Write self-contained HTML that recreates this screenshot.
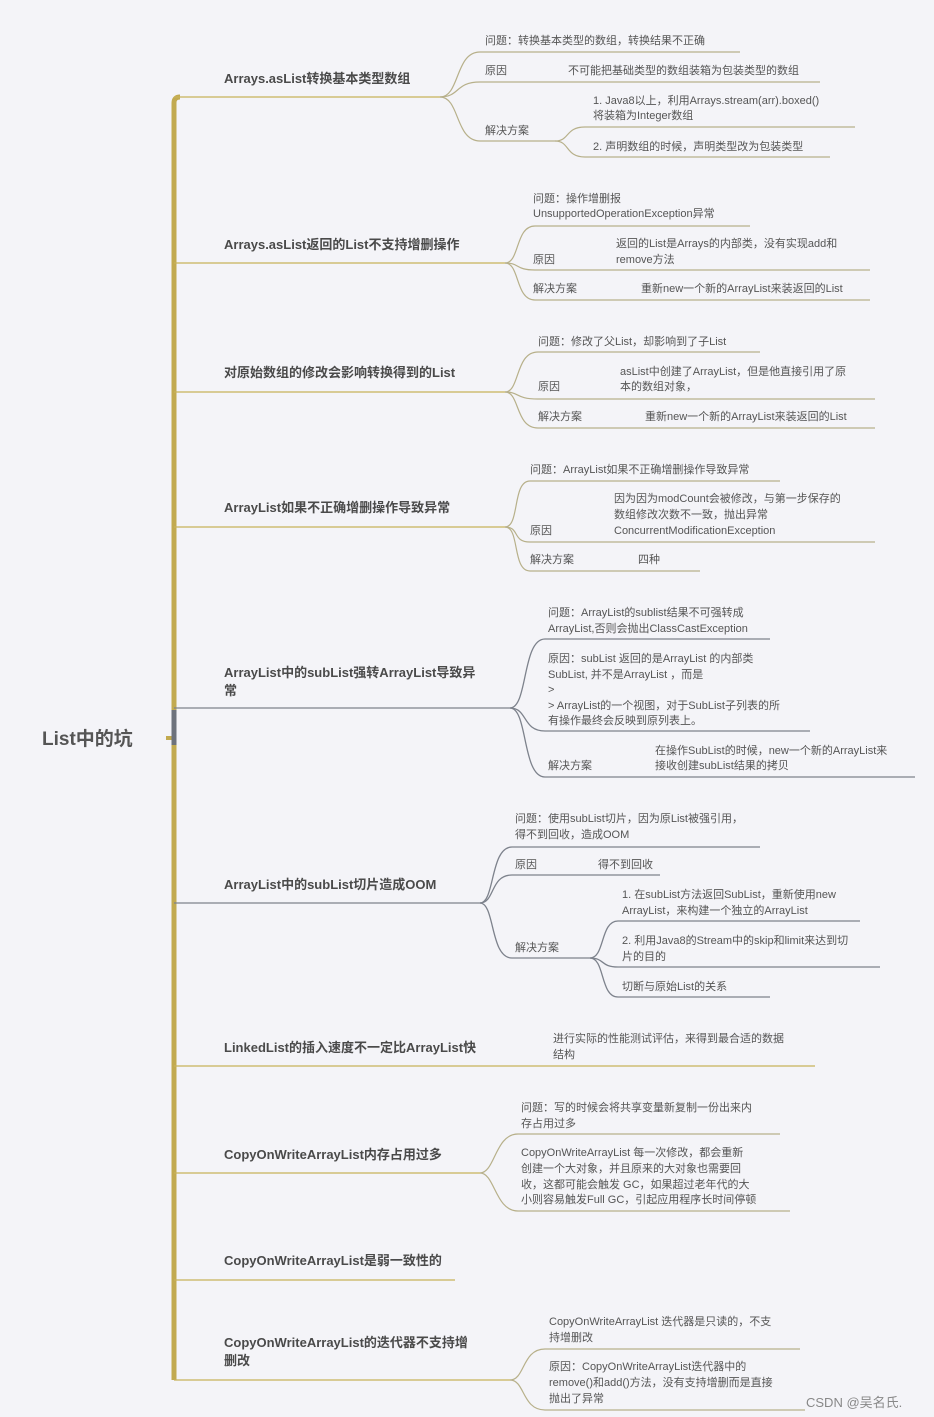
<!DOCTYPE html>
<html><head><meta charset="utf-8">
<style>
html,body{margin:0;padding:0;background:#f4f4f8;}
svg{display:block;}
text{font-family:"Liberation Sans","Noto Sans CJK SC",sans-serif;fill:#555;font-size:11px;}
.b{font-size:13px;font-weight:bold;fill:#4a4a4a;}
.r{font-size:19px;font-weight:bold;fill:#555;}
.g{fill:none;stroke:#c8b25a;stroke-width:1.3;}
.k{fill:none;stroke:#7d828c;stroke-width:1.3;}
.m{fill:none;stroke:#b7b08a;stroke-width:1.2;}
</style></head><body>
<svg width="934" height="1417" viewBox="0 0 934 1417" xmlns="http://www.w3.org/2000/svg">
<!-- trunk -->
<path d="M174 1380 L174 103 Q174 97 180 97" fill="none" stroke="#c2aa50" stroke-width="5"/>
<path d="M166 738 L174 738" stroke="#c2aa50" stroke-width="4"/>
<text class="r" x="42" y="745">List中的坑</text>

<!-- Branch 1 -->
<path class="g" d="M174 97 L440 97"/>
<text class="b" x="224" y="83">Arrays.asList转换基本类型数组</text>
<path class="m" d="M440 97 C460 97,455 52,480 52 L740 52"/>
<path class="m" d="M440 97 C460 97,455 82,480 82 L820 82"/>
<path class="m" d="M440 97 C460 97,455 141,480 141 L555 141"/>
<path class="m" d="M555 141 C570 141,565 127,585 127 L855 127"/>
<path class="m" d="M555 141 C570 141,565 157,585 157 L830 157"/>
<text x="485" y="44">问题：转换基本类型的数组，转换结果不正确</text>
<text x="485" y="74">原因</text><text x="568" y="74">不可能把基础类型的数组装箱为包装类型的数组</text>
<text x="485" y="134">解决方案</text>
<text x="593" y="104">1. Java8以上，利用Arrays.stream(arr).boxed()</text>
<text x="593" y="119">将装箱为Integer数组</text>
<text x="593" y="150">2. 声明数组的时候，声明类型改为包装类型</text>

<!-- Branch 2 -->
<path class="g" d="M174 263 L505 263"/>
<text class="b" x="224" y="249">Arrays.asList返回的List不支持增删操作</text>
<path class="m" d="M505 263 C520 263,515 226,535 226 L750 226"/>
<path class="m" d="M505 263 C520 263,515 270,535 270 L870 270"/>
<path class="m" d="M505 263 C520 263,515 300,535 300 L870 300"/>
<text x="533" y="202">问题：操作增删报</text>
<text x="533" y="217">UnsupportedOperationException异常</text>
<text x="533" y="263">原因</text>
<text x="616" y="247">返回的List是Arrays的内部类，没有实现add和</text>
<text x="616" y="263">remove方法</text>
<text x="533" y="292">解决方案</text><text x="641" y="292">重新new一个新的ArrayList来装返回的List</text>

<!-- Branch 3 -->
<path class="g" d="M174 392 L505 392"/>
<text class="b" x="224" y="377">对原始数组的修改会影响转换得到的List</text>
<path class="m" d="M505 392 C520 392,515 352,538 352 L760 352"/>
<path class="m" d="M505 392 C520 392,515 399,538 399 L875 399"/>
<path class="m" d="M505 392 C520 392,515 428,538 428 L875 428"/>
<text x="538" y="345">问题：修改了父List，却影响到了子List</text>
<text x="538" y="390">原因</text>
<text x="620" y="375">asList中创建了ArrayList，但是他直接引用了原</text>
<text x="620" y="390">本的数组对象，</text>
<text x="538" y="420">解决方案</text><text x="645" y="420">重新new一个新的ArrayList来装返回的List</text>

<!-- Branch 4 -->
<path class="g" d="M174 527 L505 527"/>
<text class="b" x="224" y="512">ArrayList如果不正确增删操作导致异常</text>
<path class="m" d="M505 527 C520 527,512 481,530 481 L780 481"/>
<path class="m" d="M505 527 C520 527,512 542,530 542 L875 542"/>
<path class="m" d="M505 527 C520 527,512 571,530 571 L700 571"/>
<text x="530" y="473">问题：ArrayList如果不正确增删操作导致异常</text>
<text x="530" y="534">原因</text>
<text x="614" y="502">因为因为modCount会被修改，与第一步保存的</text>
<text x="614" y="518">数组修改次数不一致，抛出异常</text>
<text x="614" y="534">ConcurrentModificationException</text>
<text x="530" y="563">解决方案</text><text x="638" y="563">四种</text>

<!-- Branch 5 -->
<path class="k" d="M174 708 L510 708"/>
<path d="M174 710 L174 745" stroke="#6d727c" stroke-width="5"/>
<text class="b" x="224" y="677">ArrayList中的subList强转ArrayList导致异</text>
<text class="b" x="224" y="695">常</text>
<path class="k" d="M510 708 C528 708,522 639,545 639 L770 639"/>
<path class="k" d="M510 708 C528 708,522 731,545 731 L810 731"/>
<path class="k" d="M510 708 C528 708,522 777,545 777 L915 777"/>
<text x="548" y="616">问题：ArrayList的sublist结果不可强转成</text>
<text x="548" y="632">ArrayList,否则会抛出ClassCastException</text>
<text x="548" y="662">原因：subList 返回的是ArrayList 的内部类</text>
<text x="548" y="678">SubList, 并不是ArrayList ，而是</text>
<text x="548" y="693">&gt;</text>
<text x="548" y="709">&gt; ArrayList的一个视图，对于SubList子列表的所</text>
<text x="548" y="724">有操作最终会反映到原列表上。</text>
<text x="548" y="769">解决方案</text>
<text x="655" y="754">在操作SubList的时候，new一个新的ArrayList来</text>
<text x="655" y="769">接收创建subList结果的拷贝</text>

<!-- Branch 6 -->
<path class="k" d="M174 903 L480 903"/>
<text class="b" x="224" y="889">ArrayList中的subList切片造成OOM</text>
<path class="k" d="M480 903 C495 903,490 847,512 847 L760 847"/>
<path class="k" d="M480 903 C495 903,490 875,512 875 L660 875"/>
<path class="k" d="M480 903 C495 903,490 958,512 958 L590 958"/>
<path class="k" d="M590 958 C605 958,600 921,618 921 L860 921"/>
<path class="k" d="M590 958 C605 958,600 967,618 967 L880 967"/>
<path class="k" d="M590 958 C605 958,600 997,618 997 L770 997"/>
<text x="515" y="822">问题：使用subList切片，因为原List被强引用，</text>
<text x="515" y="838">得不到回收，造成OOM</text>
<text x="515" y="868">原因</text><text x="598" y="868">得不到回收</text>
<text x="515" y="951">解决方案</text>
<text x="622" y="898">1. 在subList方法返回SubList，重新使用new</text>
<text x="622" y="914">ArrayList，来构建一个独立的ArrayList</text>
<text x="622" y="944">2. 利用Java8的Stream中的skip和limit来达到切</text>
<text x="622" y="960">片的目的</text>
<text x="622" y="990">切断与原始List的关系</text>

<!-- Branch 7 -->
<path class="g" d="M174 1066 L815 1066"/>
<text class="b" x="224" y="1052">LinkedList的插入速度不一定比ArrayList快</text>
<text x="553" y="1042">进行实际的性能测试评估，来得到最合适的数据</text>
<text x="553" y="1058">结构</text>

<!-- Branch 8 -->
<path class="g" d="M174 1173 L480 1173"/>
<text class="b" x="224" y="1159">CopyOnWriteArrayList内存占用过多</text>
<path class="m" d="M480 1173 C495 1173,495 1134,518 1134 L780 1134"/>
<path class="m" d="M480 1173 C495 1173,495 1211,518 1211 L790 1211"/>
<text x="521" y="1111">问题：写的时候会将共享变量新复制一份出来内</text>
<text x="521" y="1127">存占用过多</text>
<text x="521" y="1156">CopyOnWriteArrayList 每一次修改，都会重新</text>
<text x="521" y="1172">创建一个大对象，并且原来的大对象也需要回</text>
<text x="521" y="1188">收，这都可能会触发 GC，如果超过老年代的大</text>
<text x="521" y="1203">小则容易触发Full GC，引起应用程序长时间停顿</text>

<!-- Branch 9 -->
<path class="g" d="M174 1280 L455 1280"/>
<text class="b" x="224" y="1265">CopyOnWriteArrayList是弱一致性的</text>

<!-- Branch 10 -->
<path class="g" d="M174 1380 L510 1380"/>
<text class="b" x="224" y="1347">CopyOnWriteArrayList的迭代器不支持增</text>
<text class="b" x="224" y="1365">删改</text>
<path class="m" d="M510 1380 C525 1380,522 1349,545 1349 L800 1349"/>
<path class="m" d="M510 1380 C525 1380,522 1410,545 1410 L805 1410"/>
<text x="549" y="1325">CopyOnWriteArrayList 迭代器是只读的，不支</text>
<text x="549" y="1341">持增删改</text>
<text x="549" y="1370">原因：CopyOnWriteArrayList迭代器中的</text>
<text x="549" y="1386">remove()和add()方法，没有支持增删而是直接</text>
<text x="549" y="1402">抛出了异常</text>

<text x="806" y="1407" style="font-size:13px;fill:#888">CSDN @吴名氏.</text>
</svg>
</body></html>
